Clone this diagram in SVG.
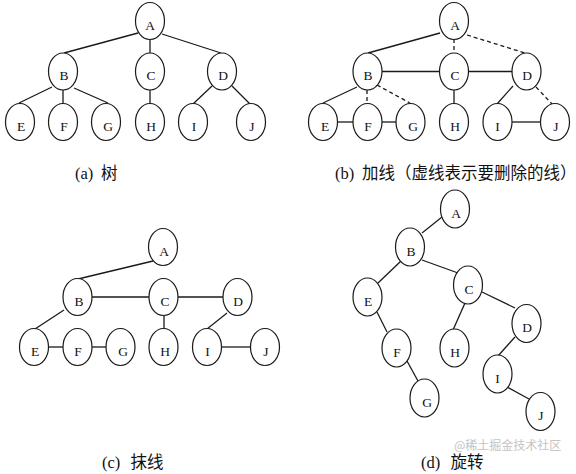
<svg xmlns="http://www.w3.org/2000/svg" width="576" height="474" viewBox="0 0 576 474">
<style>
.n ellipse{fill:#fff;stroke:#1a1a1a;stroke-width:1.2}
.n text{font-family:"Liberation Serif","Times New Roman",serif;font-size:13.5px;fill:#111;text-anchor:middle}
.e line{stroke:#1a1a1a;stroke-width:1.3}
.e line.d{stroke-dasharray:4 3}
.cap{font-family:"Liberation Serif","Noto Sans CJK SC",serif;font-size:16.5px;fill:#111}
.wm{font-family:"Noto Sans CJK SC",sans-serif;font-size:12px;fill:#c4c4c4}
</style>
<g id="connectors" class="e">
<!-- (a) -->
<line x1="138" y1="33" x2="64" y2="53"/>
<line x1="150" y1="39" x2="150" y2="54"/>
<line x1="162" y1="34" x2="221" y2="53"/>
<line x1="52" y1="87" x2="19" y2="103"/>
<line x1="63" y1="90" x2="63" y2="103"/>
<line x1="74" y1="88" x2="108" y2="103"/>
<line x1="150" y1="90" x2="150" y2="104"/>
<line x1="212" y1="86" x2="193" y2="104"/>
<line x1="232" y1="86" x2="250" y2="104"/>
<!-- (b) -->
<line x1="440" y1="33" x2="368" y2="53"/>
<line class="d" x1="454" y1="39" x2="454" y2="54"/>
<line class="d" x1="467" y1="35" x2="525" y2="53"/>
<line x1="382" y1="71.5" x2="439" y2="71.5"/>
<line x1="468" y1="71.5" x2="512" y2="71.5"/>
<line x1="357" y1="87" x2="323" y2="103"/>
<line class="d" x1="367" y1="90" x2="367" y2="103"/>
<line class="d" x1="377" y1="85" x2="410" y2="103"/>
<line x1="337" y1="122" x2="353" y2="122"/>
<line x1="382" y1="122" x2="396" y2="122"/>
<line x1="454" y1="90" x2="454" y2="104"/>
<line x1="513" y1="86" x2="497" y2="104"/>
<line class="d" x1="536" y1="87" x2="552" y2="104"/>
<line x1="512" y1="122" x2="541" y2="122"/>
<!-- (c) -->
<line x1="153" y1="261" x2="78" y2="279"/>
<line x1="92" y1="297" x2="149" y2="297"/>
<line x1="178" y1="297" x2="223" y2="297"/>
<line x1="64" y1="310" x2="35" y2="329"/>
<line x1="48" y1="347" x2="63" y2="347"/>
<line x1="92" y1="347" x2="106" y2="347"/>
<line x1="164" y1="316" x2="164" y2="329"/>
<line x1="227" y1="313" x2="207" y2="329"/>
<line x1="222" y1="347" x2="251" y2="347"/>
<!-- (d) -->
<line x1="442" y1="217" x2="422" y2="233"/>
<line x1="401" y1="261" x2="378" y2="283"/>
<line x1="422" y1="260" x2="458" y2="273"/>
<line x1="377" y1="312" x2="387" y2="332"/>
<line x1="407" y1="361" x2="418" y2="381"/>
<line x1="465" y1="303" x2="453" y2="330"/>
<line x1="482" y1="292" x2="515" y2="308"/>
<line x1="515" y1="337" x2="498" y2="356"/>
<line x1="507" y1="387" x2="529" y2="399"/>
</g>
<!-- panel (a) -->
<g id="a-A" class="n"><ellipse cx="150" cy="21" rx="14.5" ry="18.5"/><text x="150" y="29.5">A</text></g>
<g id="a-B" class="n"><ellipse cx="63" cy="71.5" rx="14.5" ry="18.5"/><text x="64" y="80">B</text></g>
<g id="a-C" class="n"><ellipse cx="150" cy="71.5" rx="14.5" ry="18.5"/><text x="151" y="80">C</text></g>
<g id="a-D" class="n"><ellipse cx="222" cy="71.5" rx="14.5" ry="18.5"/><text x="223" y="80">D</text></g>
<g id="a-E" class="n"><ellipse cx="20" cy="122" rx="14.5" ry="18.5"/><text x="21" y="130.5">E</text></g>
<g id="a-F" class="n"><ellipse cx="63" cy="122" rx="14.5" ry="18.5"/><text x="64" y="130.5">F</text></g>
<g id="a-G" class="n"><ellipse cx="106" cy="122" rx="14.5" ry="18.5"/><text x="108" y="130.5">G</text></g>
<g id="a-H" class="n"><ellipse cx="150" cy="122" rx="14.5" ry="18.5"/><text x="151" y="130.5">H</text></g>
<g id="a-I" class="n"><ellipse cx="193" cy="122" rx="14.5" ry="18.5"/><text x="194" y="130.5">I</text></g>
<g id="a-J" class="n"><ellipse cx="251" cy="122" rx="14.5" ry="18.5"/><text x="252" y="130.5">J</text></g>
<!-- panel (b) -->
<g id="b-A" class="n"><ellipse cx="454" cy="21" rx="14.5" ry="18.5"/><text x="455" y="29.5">A</text></g>
<g id="b-B" class="n"><ellipse cx="367.5" cy="71.5" rx="14.5" ry="18.5"/><text x="368" y="80">B</text></g>
<g id="b-C" class="n"><ellipse cx="454" cy="71.5" rx="14.5" ry="18.5"/><text x="455" y="80">C</text></g>
<g id="b-D" class="n"><ellipse cx="526.5" cy="71.5" rx="14.5" ry="18.5"/><text x="527" y="80">D</text></g>
<g id="b-E" class="n"><ellipse cx="323" cy="122" rx="14.5" ry="18.5"/><text x="325" y="130.5">E</text></g>
<g id="b-F" class="n"><ellipse cx="367.5" cy="122" rx="14.5" ry="18.5"/><text x="368" y="130.5">F</text></g>
<g id="b-G" class="n"><ellipse cx="410.5" cy="122" rx="14.5" ry="18.5"/><text x="413" y="130.5">G</text></g>
<g id="b-H" class="n"><ellipse cx="454" cy="122" rx="14.5" ry="18.5"/><text x="455" y="130.5">H</text></g>
<g id="b-I" class="n"><ellipse cx="497.5" cy="122" rx="14.5" ry="18.5"/><text x="497.5" y="130.5">I</text></g>
<g id="b-J" class="n"><ellipse cx="555" cy="122" rx="14.5" ry="18.5"/><text x="556" y="130.5">J</text></g>
<!-- panel (c) -->
<g id="c-A" class="n"><ellipse cx="163" cy="247" rx="14.5" ry="18.5"/><text x="164" y="255.5">A</text></g>
<g id="c-B" class="n"><ellipse cx="77.5" cy="297" rx="14.5" ry="18.5"/><text x="79" y="305.5">B</text></g>
<g id="c-C" class="n"><ellipse cx="163.5" cy="297" rx="14.5" ry="18.5"/><text x="165" y="305.5">C</text></g>
<g id="c-D" class="n"><ellipse cx="237.5" cy="297" rx="14.5" ry="18.5"/><text x="238" y="305.5">D</text></g>
<g id="c-E" class="n"><ellipse cx="34" cy="347" rx="14.5" ry="18.5"/><text x="35" y="355.5">E</text></g>
<g id="c-F" class="n"><ellipse cx="77.5" cy="347" rx="14.5" ry="18.5"/><text x="78" y="355.5">F</text></g>
<g id="c-G" class="n"><ellipse cx="120.5" cy="347" rx="14.5" ry="18.5"/><text x="123" y="355.5">G</text></g>
<g id="c-H" class="n"><ellipse cx="163.5" cy="347" rx="14.5" ry="18.5"/><text x="165" y="355.5">H</text></g>
<g id="c-I" class="n"><ellipse cx="207" cy="347" rx="14.5" ry="18.5"/><text x="207.5" y="355.5">I</text></g>
<g id="c-J" class="n"><ellipse cx="265" cy="347" rx="14.5" ry="18.5"/><text x="266" y="355.5">J</text></g>
<!-- panel (d) -->
<g id="d-A" class="n"><ellipse cx="455" cy="209" rx="14.5" ry="19"/><text x="456" y="217.5">A</text></g>
<g id="d-B" class="n"><ellipse cx="410" cy="247" rx="14.5" ry="19"/><text x="411" y="255.5">B</text></g>
<g id="d-C" class="n"><ellipse cx="468" cy="285" rx="14.5" ry="19"/><text x="469" y="293.5">C</text></g>
<g id="d-D" class="n"><ellipse cx="526.5" cy="323.5" rx="14.5" ry="19"/><text x="527" y="332">D</text></g>
<g id="d-E" class="n"><ellipse cx="367.5" cy="297" rx="14.5" ry="19"/><text x="368" y="305.5">E</text></g>
<g id="d-F" class="n"><ellipse cx="396.5" cy="348" rx="14.5" ry="19"/><text x="397" y="356.5">F</text></g>
<g id="d-G" class="n"><ellipse cx="424.5" cy="398" rx="14.5" ry="19"/><text x="427" y="406.5">G</text></g>
<g id="d-H" class="n"><ellipse cx="454.5" cy="348" rx="14.5" ry="19"/><text x="455" y="356.5">H</text></g>
<g id="d-I" class="n"><ellipse cx="497.5" cy="374" rx="14.5" ry="19"/><text x="497.5" y="382.5">I</text></g>
<g id="d-J" class="n"><ellipse cx="540.5" cy="411.5" rx="14.5" ry="19"/><text x="541" y="420">J</text></g>
<!-- captions -->
<text class="cap" x="75" y="179">(a)<tspan x="101">树</tspan></text>
<text class="cap" x="335" y="179">(b)<tspan x="362">加线（虚线表示要删除的线）</tspan></text>
<text class="cap" x="102" y="468">(c)<tspan x="130.5">抹线</tspan></text>
<text class="wm" x="454" y="450">@稀土掘金技术社区</text>
<text class="cap" x="421" y="468">(d)<tspan x="450.5">旋转</tspan></text>
</svg>
